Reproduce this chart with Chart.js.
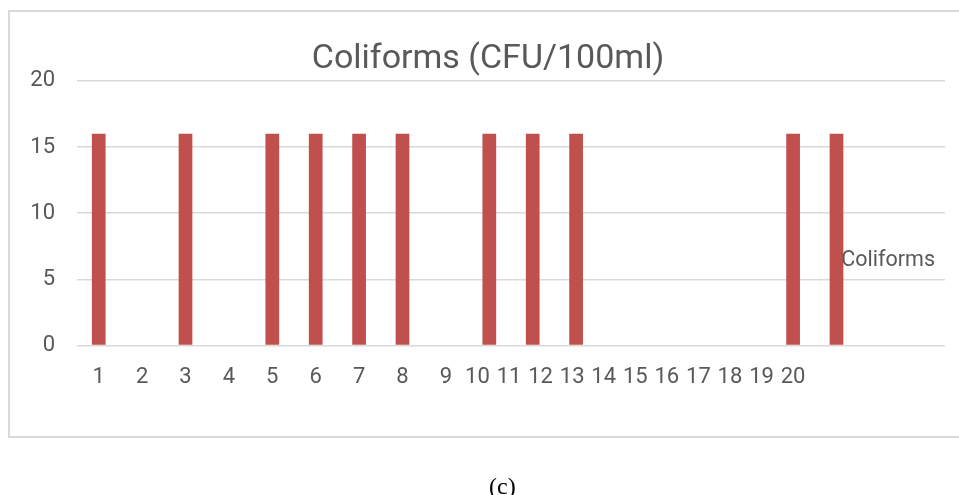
<!DOCTYPE html>
<html><head><meta charset="utf-8">
<script src="https://cdn.jsdelivr.net/npm/chart.js@4"></script>
<style>
html,body{margin:0;padding:0;background:#fff;width:959px;height:495px;overflow:hidden;}
#frame{position:absolute;left:8px;top:10px;width:980px;height:428px;box-sizing:border-box;border:2px solid #d9d9d9;}
#wrap{position:absolute;left:0;top:0;width:959px;height:495px;}
#cap{position:absolute;left:489px;top:474px;font-family:"Liberation Serif","Times New Roman",serif;font-size:24px;line-height:1;color:#000;}
</style></head><body>
<div id="frame"></div>
<div id="wrap"><canvas id="c"></canvas></div>
<div id="cap">(c)</div>
<script>
const chartTitle = 'Coliforms (CFU/100ml)';
const seriesName = 'Coliforms';
const categories = ['1','2','3','4','5','6','7','8','9','10','11','12','13','14','15','16','17','18','19','20'];
const xTickLabels = ['1','2','3','4','5','6','7','8','9','10','11','12','13','14','15','16','17','18','19','20'];
const coliforms = [16,0,16,0,16,16,16,16,0,16,16,16,0,0,0,0,16,16,0,0];
const yTicks = [0,5,10,15,20];

const FONT = 'Roboto, "Liberation Sans", sans-serif';
const TXT = '#595959';

// x-axis labels in the original: 1..8 under slots, 9..20 squeezed into slots 8..16
function labelPos(i){ return i < 8 ? i : 8 + (i - 8) * 8 / 11; }

const legendText = {
  id: 'legendText',
  afterDraw(chart){
    const {ctx, chartArea} = chart;
    ctx.save();
    ctx.font = '21.5px ' + FONT;
    ctx.fillStyle = TXT;
    ctx.textAlign = 'right';
    ctx.textBaseline = 'middle';
    ctx.fillText(chart.data.datasets[0].label, chartArea.right - 10, chartArea.top + 180);
    ctx.restore();
  }
};

new Chart(document.getElementById('c'), {
  type: 'bar',
  data: {
    labels: categories,
    datasets: [{
      label: seriesName,
      data: coliforms,
      backgroundColor: '#C0504D',
      borderWidth: 0,
      barPercentage: 0.316,
      categoryPercentage: 1.0
    }]
  },
  options: {
    responsive: true,
    maintainAspectRatio: false,
    animation: false,
    devicePixelRatio: 1,
    layout: { padding: { left: 31, right: 14, top: 0, bottom: 85 } },
    plugins: {
      legend: { display: false },
      tooltip: { enabled: false },
      title: {
        display: true,
        text: chartTitle,
        color: TXT,
        font: { family: FONT, size: 34, weight: 'normal' },
        padding: { top: 39, bottom: 1 }
      }
    },
    scales: {
      x: {
        type: 'category',
        display: false,
        offset: true,
        grid: { display: false }
      },
      x2: {
        type: 'linear',
        position: 'bottom',
        axis: 'x',
        bounds: 'data',
        offset: false,
        min: -0.5,
        max: 19.5,
        grid: { display: false, drawTicks: false, offset: false },
        border: { display: false },
        afterBuildTicks(scale){
          scale.min = -0.5;
          scale.max = 19.5;
          scale.ticks = xTickLabels.map((t, i) => ({ value: labelPos(i), label: t }));
        },
        ticks: {
          autoSkip: false,
          maxRotation: 0,
          color: TXT,
          font: { family: FONT, size: 22 },
          padding: 19,
          callback(value, index){ return xTickLabels[index]; }
        }
      },
      y: {
        min: 0,
        max: 20,
        afterBuildTicks(scale){ scale.ticks = yTicks.map(v => ({ value: v })); },
        afterFit(scale){ scale.width = 46; },
        grid: { color: '#d9d9d9', lineWidth: 1.5, drawTicks: false },
        border: { display: false },
        ticks: {
          color: TXT,
          font: { family: FONT, size: 22 },
          padding: 22,
          stepSize: 5
        }
      }
    }
  },
  plugins: [legendText]
});
</script>
</body></html>
